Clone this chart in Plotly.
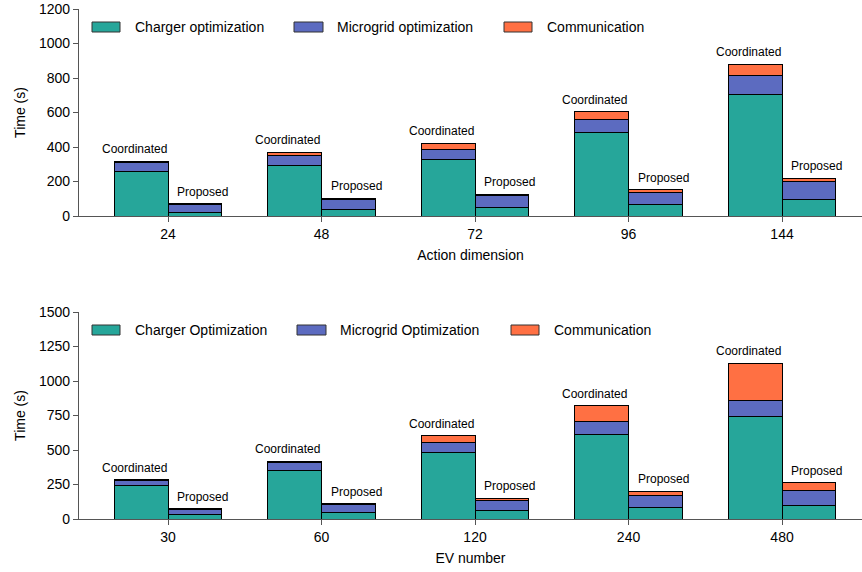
import plotly.graph_objects as go

# ---------------- data ----------------
action_dims = ["24", "48", "72", "96", "144"]
ev_numbers = ["30", "60", "120", "240", "480"]

# Top chart (Action dimension)
top_coord_charger = [258, 294, 329, 485, 705]
top_coord_micro = [50, 56, 58, 73, 107]
top_coord_comm = [10, 19, 34, 47, 67]
top_prop_charger = [18, 39, 52, 66, 93]
top_prop_micro = [48, 54, 64, 71, 106]
top_prop_comm = [6, 9, 11, 16, 19]

# Bottom chart (EV number)
bot_coord_charger = [243, 353, 481, 611, 742]
bot_coord_micro = [36, 53, 75, 95, 116]
bot_coord_comm = [7, 14, 48, 113, 270]
bot_prop_charger = [33, 46, 63, 80, 97]
bot_prop_micro = [36, 60, 72, 92, 111]
bot_prop_comm = [4, 6, 14, 28, 56]

top_legend = ["Charger optimization", "Microgrid optimization", "Communication"]
bot_legend = ["Charger Optimization", "Microgrid Optimization", "Communication"]
group_labels = ["Coordinated", "Proposed"]

COLORS = ["#26A69A", "#5C6BC0", "#FF7043"]
FONT = "Liberation Sans, Arial, sans-serif"
BAR_W = 0.35

fig = go.Figure()


def add_panel(xaxis, yaxis, coord, prop, n):
    idx = list(range(n))
    xc = [i - BAR_W / 2 for i in idx]
    xp = [i + BAR_W / 2 for i in idx]
    for xs, series in ((xc, coord), (xp, prop)):
        for vals, col in zip(series, COLORS):
            fig.add_trace(go.Bar(
                x=xs, y=vals, width=BAR_W, xaxis=xaxis, yaxis=yaxis,
                marker=dict(color=col, line=dict(color="black", width=1)),
                showlegend=False, hoverinfo="y",
            ))
    for xs, series, lab, shift in ((xc, coord, group_labels[0], -7),
                                   (xp, prop, group_labels[1], 8)):
        totals = [sum(v) for v in zip(*series)]
        for x, t in zip(xs, totals):
            fig.add_annotation(x=x, y=t, xref=xaxis, yref=yaxis, text=lab,
                               showarrow=False, yanchor="bottom", yshift=3, xshift=shift,
                               font=dict(family=FONT, size=12, color="black"))


add_panel("x", "y", (top_coord_charger, top_coord_micro, top_coord_comm),
          (top_prop_charger, top_prop_micro, top_prop_comm), len(action_dims))
add_panel("x2", "y2", (bot_coord_charger, bot_coord_micro, bot_coord_comm),
          (bot_prop_charger, bot_prop_micro, bot_prop_comm), len(ev_numbers))

# ---------- layout geometry (pixels) ----------
W, H = 862, 572
L, R, T, B = 79, 0, 9, 53
PW, PH = W - L - R, H - T - B


def px_x(p):
    return (p - L) / PW


def px_y(p):
    return (H - B - p) / PH


# manual legends (wide patches like the original)
legend_rows = [
    (top_legend, 22, 32, [(92, 120, 133), (294, 323, 335), (504, 532, 545)]),
    (bot_legend, 325, 335, [(92, 120, 133), (297, 326, 338), (511, 539, 552)]),
]
for names, y0, y1, pos in legend_rows:
    for name, col, (bx0, bx1, tx) in zip(names, COLORS, pos):
        fig.add_shape(type="rect", xref="paper", yref="paper",
                      x0=px_x(bx0), x1=px_x(bx1), y0=px_y(y1), y1=px_y(y0),
                      fillcolor=col, line=dict(color="#333", width=1))
        fig.add_annotation(xref="paper", yref="paper", x=px_x(tx), y=px_y((y0 + y1) / 2),
                           text=name, showarrow=False, xanchor="left", yanchor="middle",
                           font=dict(family=FONT, size=14, color="black"))

axis_common = dict(showline=True, linecolor="#555", linewidth=1.2, ticks="outside",
                   tickcolor="#555", ticklen=5, showgrid=False, zeroline=False,
                   automargin=False,
                   tickfont=dict(family=FONT, size=14, color="black"))

xrange = [-0.58, -0.58 + PW / 153.5]
top_dom = [(H - B - 216) / PH, 1]
bot_dom = [0, (H - B - 312) / PH]

fig.update_layout(
    width=W, height=H, barmode="stack",
    margin=dict(l=L, r=R, t=T, b=B, autoexpand=False),
    plot_bgcolor="white", paper_bgcolor="white",
    font=dict(family=FONT, size=14, color="black"),
    xaxis=dict(axis_common, domain=[0, 1], anchor="y", range=xrange,
               tickmode="array", tickvals=list(range(len(action_dims))), ticktext=action_dims,
               title=dict(text="Action dimension", standoff=9, font=dict(family=FONT, size=14))),
    yaxis=dict(axis_common, domain=top_dom, anchor="x", range=[0, 1200], dtick=200,
               title=dict(text="Time (s)", standoff=10, font=dict(family=FONT, size=14))),
    xaxis2=dict(axis_common, domain=[0, 1], anchor="y2", range=xrange,
                tickmode="array", tickvals=list(range(len(ev_numbers))), ticktext=ev_numbers,
                title=dict(text="EV number", standoff=9, font=dict(family=FONT, size=14))),
    yaxis2=dict(axis_common, domain=bot_dom, anchor="x2", range=[0, 1500], dtick=250,
                title=dict(text="Time (s)", standoff=10, font=dict(family=FONT, size=14))),
    showlegend=False,
)

fig.write_html("out.html", config={"displayModeBar": False},
               post_script="document.body.style.margin='0';document.body.style.overflow='hidden';")
